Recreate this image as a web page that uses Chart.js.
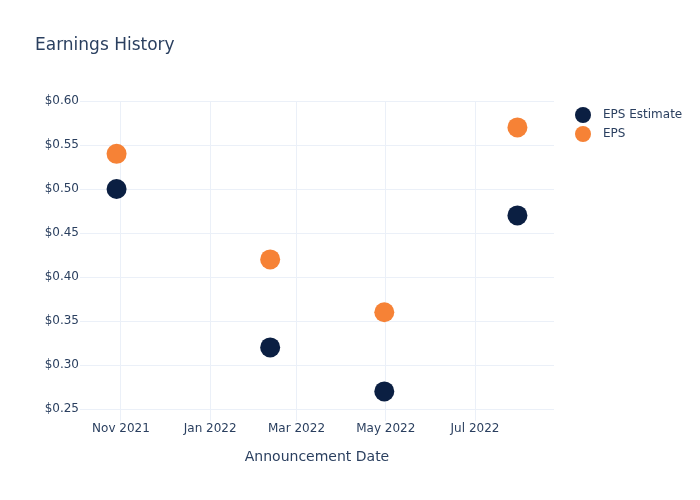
<!DOCTYPE html>
<html>
<head>
<meta charset="utf-8">
<script src="https://cdn.jsdelivr.net/npm/chart.js@4"></script>
<style>
  html, body { margin: 0; padding: 0; background: #fff; }
  #wrap { width: 700px; height: 500px; }
</style>
</head>
<body>
<div id="wrap"><canvas id="earningsChart" width="700" height="500"></canvas></div>
<script>
const dates = ["2021-10-29", "2022-02-11", "2022-04-30", "2022-07-30"];
const epsEstimate = [0.50, 0.32, 0.27, 0.47];
const epsActual = [0.54, 0.42, 0.36, 0.57];
const monthTicks = ["2021-11-01", "2022-01-01", "2022-03-01", "2022-05-01", "2022-07-01"];
const yTicks = [0.25, 0.30, 0.35, 0.40, 0.45, 0.50, 0.55, 0.60];
const monthNames = ["Jan", "Feb", "Mar", "Apr", "May", "Jun", "Jul", "Aug", "Sep", "Oct", "Nov", "Dec"];

const textColor = "#2a3f5f";
const font = "DejaVu Sans";
const toMs = d => Date.parse(d + "T00:00:00Z");

const points = vals => vals.map((v, i) => ({ x: toMs(dates[i]), y: v }));

const decorations = {
  id: "decorations",
  afterDraw(chart) {
    const ctx = chart.ctx;
    const area = chart.chartArea;
    ctx.save();
    ctx.fillStyle = textColor;
    ctx.textBaseline = "middle";
    ctx.font = "17px '" + font + "'";
    ctx.textAlign = "left";
    ctx.fillText("Earnings History", 35, 46);

    ctx.font = "14px '" + font + "'";
    ctx.textAlign = "center";
    ctx.fillText("Announcement Date", (area.left + area.right) / 2, 457);

    ctx.font = "12px '" + font + "'";
    ctx.textAlign = "left";
    chart.data.datasets.forEach((ds, i) => {
      const y = 115 + i * 19;
      ctx.beginPath();
      ctx.arc(583, y, 8, 0, Math.PI * 2);
      ctx.fillStyle = ds.backgroundColor;
      ctx.fill();
      ctx.fillStyle = textColor;
      ctx.fillText(ds.label, 603, y);
    });
    ctx.restore();
  }
};

const ctx = document.getElementById("earningsChart").getContext("2d");

const earningsChart = new Chart(ctx, {
  type: "scatter",
  data: {
    datasets: [{
      label: "EPS Estimate",
      data: points(epsEstimate),
      backgroundColor: "#0b1f42",
      borderWidth: 0,
      pointRadius: 10,
      pointHoverRadius: 10
    }, {
      label: "EPS",
      data: points(epsActual),
      backgroundColor: "#f68236",
      borderWidth: 0,
      pointRadius: 10,
      pointHoverRadius: 10
    }]
  },
  options: {
    responsive: false,
    animation: false,
    layout: { padding: { top: 101, right: 146, left: 0, bottom: 0 } },
    plugins: {
      legend: { display: false },
      title: { display: false },
      tooltip: { enabled: false }
    },
    scales: {
      x: {
        type: "linear",
        min: toMs("2021-10-04"),
        max: toMs("2022-08-24"),
        afterFit(scale) { scale.height = 79; },
        afterBuildTicks(scale) {
          scale.ticks = monthTicks.map(d => ({ value: toMs(d) }));
        },
        grid: { color: "#ebf0f8", drawTicks: false },
        border: { display: false },
        ticks: {
          color: textColor,
          font: { family: font, size: 12 },
          padding: 1,
          maxRotation: 0,
          autoSkip: false,
          callback(v) {
            const d = new Date(v);
            return monthNames[d.getUTCMonth()] + " " + d.getUTCFullYear();
          }
        }
      },
      y: {
        min: 0.2364,
        max: 0.6,
        afterFit(scale) { scale.width = 80; },
        afterBuildTicks(scale) {
          scale.ticks = yTicks.map(v => ({ value: v }));
        },
        grid: { color: "#ebf0f8", drawTicks: false },
        border: { display: false },
        ticks: {
          color: textColor,
          font: { family: font, size: 12 },
          padding: 1,
          callback(v) { return "$" + v.toFixed(2); }
        }
      }
    }
  },
  plugins: [decorations]
});
</script>
</body>
</html>
